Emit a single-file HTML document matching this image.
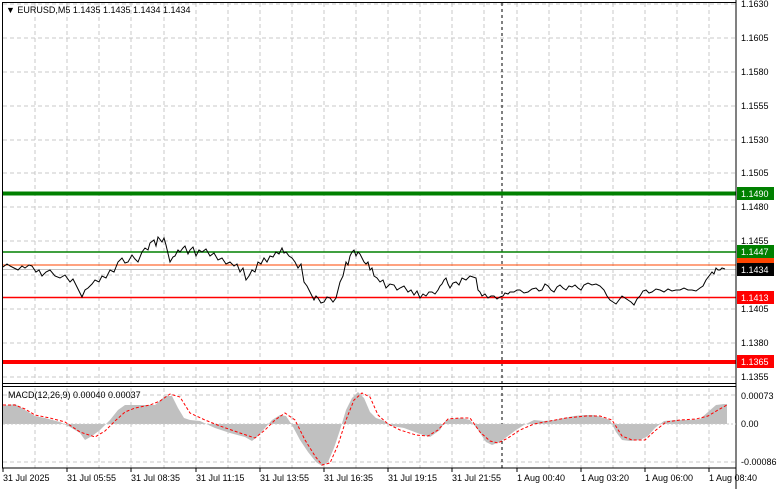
<!DOCTYPE html>
<html><head><style>
body{margin:0;background:#fff;width:781px;height:489px;overflow:hidden;font-family:"Liberation Sans",sans-serif}
svg text{font-family:"Liberation Sans",sans-serif;font-size:9px;fill:#000}
</style></head><body>
<svg width="781" height="489" viewBox="0 0 781 489">
<rect width="781" height="489" fill="#fff"/>
<g stroke="#c8c8c8" stroke-dasharray="4,3" stroke-width="1">
<line x1="3" y1="4" x2="736" y2="4"/><line x1="3" y1="38" x2="736" y2="38"/><line x1="3" y1="72" x2="736" y2="72"/><line x1="3" y1="106" x2="736" y2="106"/><line x1="3" y1="140" x2="736" y2="140"/><line x1="3" y1="173" x2="736" y2="173"/><line x1="3" y1="207" x2="736" y2="207"/><line x1="3" y1="241" x2="736" y2="241"/><line x1="3" y1="275" x2="736" y2="275"/><line x1="3" y1="309" x2="736" y2="309"/><line x1="3" y1="343" x2="736" y2="343"/><line x1="3" y1="377" x2="736" y2="377"/>
<line x1="3" y1="395" x2="736" y2="395"/><line x1="3" y1="462" x2="736" y2="462"/>
<line x1="35" y1="3" x2="35" y2="468"/><line x1="67" y1="3" x2="67" y2="468"/><line x1="99" y1="3" x2="99" y2="468"/><line x1="131" y1="3" x2="131" y2="468"/><line x1="164" y1="3" x2="164" y2="468"/><line x1="196" y1="3" x2="196" y2="468"/><line x1="228" y1="3" x2="228" y2="468"/><line x1="260" y1="3" x2="260" y2="468"/><line x1="292" y1="3" x2="292" y2="468"/><line x1="324" y1="3" x2="324" y2="468"/><line x1="356" y1="3" x2="356" y2="468"/><line x1="388" y1="3" x2="388" y2="468"/><line x1="420" y1="3" x2="420" y2="468"/><line x1="452" y1="3" x2="452" y2="468"/><line x1="484" y1="3" x2="484" y2="468"/><line x1="517" y1="3" x2="517" y2="468"/><line x1="549" y1="3" x2="549" y2="468"/><line x1="581" y1="3" x2="581" y2="468"/><line x1="613" y1="3" x2="613" y2="468"/><line x1="645" y1="3" x2="645" y2="468"/><line x1="677" y1="3" x2="677" y2="468"/><line x1="709" y1="3" x2="709" y2="468"/>
</g>
<line x1="502" y1="3" x2="502" y2="468" stroke="#000" stroke-dasharray="3,3"/>
<rect x="0" y="383" width="737" height="4" fill="#fff"/>
<!-- levels -->
<line x1="3" y1="193.5" x2="736" y2="193.5" stroke="#008000" stroke-width="4"/>
<line x1="3" y1="252" x2="736" y2="252" stroke="#008000" stroke-width="1.5"/>
<line x1="3" y1="265" x2="736" y2="265" stroke="#ff4500" stroke-width="1"/>
<line x1="3" y1="269.5" x2="736" y2="269.5" stroke="#c0c0c0" stroke-width="1"/>
<line x1="3" y1="297.5" x2="736" y2="297.5" stroke="#ff0000" stroke-width="1.5"/>
<line x1="3" y1="362" x2="736" y2="362" stroke="#ff0000" stroke-width="4"/>
<polyline fill="none" stroke="#000" stroke-width="1" points="3,267 7,264 10,266 14,268 18,270 22,266 25,268 29,265 32,266 36,272 39,270 42,276 46,272 50,270 55,276 60,278 65,275 70,282 73,279 76,285 82,297 85,290 88,288 92,284 95,280 99,282 102,276 106,278 110,270 114,272 118,262 122,258 125,263 128,262 132,255 135,259 138,262 142,252 145,248 148,250 150,243 154,240 156,246 158,237 162,242 164,238 166,245 170,262 173,257 175,256 178,250 180,252 183,248 185,246 188,254 190,250 193,247 196,256 199,250 202,252 206,249 210,256 214,253 218,260 222,258 226,264 230,262 234,266 237,264 240,272 243,268 246,280 249,276 252,270 255,272 258,262 261,264 264,258 267,262 270,256 273,257 276,252 279,254 282,248 284,253 286,252 289,256 292,258 295,262 298,268 301,264 304,282 307,286 310,292 312,296 314,300 316,296 318,298 321,303 324,302 327,297 330,298 333,302 336,298 340,282 343,276 346,262 348,265 350,256 352,252 354,250 356,256 358,252 360,254 362,258 364,262 366,264 368,262 370,270 372,268 374,276 377,278 380,282 383,280 386,288 390,284 394,285 397,290 400,288 404,286 408,292 411,290 414,295 417,291 420,298 423,294 426,296 429,292 432,292 435,294 438,290 440,286 442,284 444,280 446,278 448,284 450,288 453,283 456,282 459,285 462,278 466,280 470,276 473,277 476,278 478,290 480,292 482,296 485,294 488,298 491,296 494,296 497,299 500,297 503,296 505,293 508,294 510,292 514,292 517,290 520,290 524,293 528,292 532,289 536,288 539,291 542,290 545,284 548,286 551,290 554,292 557,287 560,285 563,288 566,290 569,286 572,287 575,285 578,288 581,290 584,285 588,283 592,285 596,284 600,286 604,290 607,296 610,300 613,302 616,304 619,300 622,296 625,298 628,300 631,302 634,305 637,299 640,296 643,291 646,290 649,293 652,292 656,289 660,290 664,292 668,289 672,291 676,290 680,290 684,288 688,290 692,290 696,291 700,288 703,286 706,280 709,276 712,272 714,274 716,268 718,270 720,270 722,268 725,269"/>
<!-- frame -->
<line x1="736" y1="0" x2="736" y2="489" stroke="#000"/>
<line x1="2" y1="383.5" x2="736" y2="383.5" stroke="#000"/>
<line x1="2" y1="386.5" x2="736" y2="386.5" stroke="#000"/>
<line x1="2" y1="468" x2="736" y2="468" stroke="#000"/>
<line x1="2" y1="2.5" x2="736" y2="2.5" stroke="#000"/>
<line x1="2.5" y1="2" x2="2.5" y2="468" stroke="#000"/>
<g>
<text x="741" y="7">1.1630</text><text x="741" y="41">1.1605</text><text x="741" y="75">1.1580</text><text x="741" y="109">1.1555</text><text x="741" y="143">1.1530</text><text x="741" y="176">1.1505</text><text x="741" y="210">1.1480</text><text x="741" y="244">1.1455</text><text x="741" y="312">1.1405</text><text x="741" y="346">1.1380</text><text x="741" y="380">1.1355</text>
</g>
<rect x="737" y="187" width="37" height="13" fill="#008000"/><text x="741" y="197" style="fill:#fff">1.1490</text>
<rect x="737" y="245" width="37" height="13" fill="#008000"/><text x="741" y="255" style="fill:#fff">1.1447</text>
<rect x="737" y="258" width="37" height="9" fill="#ff4500"/>
<rect x="737" y="263" width="37" height="13" fill="#000"/><text x="741" y="273" style="fill:#fff">1.1434</text>
<rect x="737" y="291" width="37" height="13" fill="#ff0000"/><text x="741" y="301" style="fill:#fff">1.1413</text>
<rect x="737" y="355" width="37" height="13" fill="#ff0000"/><text x="741" y="365" style="fill:#fff">1.1365</text>
<text x="6" y="13">▼ EURUSD,M5  1.1435 1.1435 1.1434 1.1434</text>
<!-- MACD -->
<path fill="#c0c0c0" d="M3,424 L3,406 15,404 25,410 35,416 45,418 60,422 70,427 80,433 85,440 92,436 100,430 110,420 118,410 125,405 140,405 155,405 165,396 172,396 178,408 184,418 190,420 200,421 215,428 230,433 245,437 252,441 258,436 265,428 272,420 280,415 286,416 292,425 300,440 308,452 316,462 322,466 328,462 334,448 340,430 346,410 352,398 358,392 364,398 370,412 376,418 382,420 392,426 404,428 420,434 430,437 440,430 446,420 452,419 462,418 470,420 478,430 486,442 492,445 500,442 508,436 516,430 524,425 534,420 544,421 554,420 564,418 574,416 584,415 594,415 604,418 610,420 616,432 622,440 630,441 640,440 648,436 655,428 664,421 676,420 690,420 700,419 708,412 716,405 724,404 727,404 L727,424 Z"/>
<line x1="3" y1="424" x2="736" y2="424" stroke="#c8c8c8" stroke-dasharray="2,2"/>
<polyline fill="none" stroke="#ff0000" stroke-dasharray="3,2" stroke-width="1" points="3,405 15,405 25,409 35,415 50,418 65,422 80,432 95,437 105,431 115,421 125,412 135,408 150,405 160,401 170,394 180,397 190,413 205,420 220,426 240,433 255,438 265,430 275,420 285,413 295,420 305,440 315,456 322,465 330,463 338,445 346,420 354,400 362,393 370,397 378,415 388,424 400,430 416,435 428,436 438,430 448,419 460,418 470,418 480,432 490,441 498,443 508,438 520,430 534,424 550,421 566,418 586,416 600,416 612,420 622,436 632,440 645,440 656,430 666,422 680,420 696,419 708,416 718,410 727,405"/>
<text x="8" y="398">MACD(12,26,9) 0.00040 0.00037</text>
<text x="741" y="399">0.00073</text><text x="741" y="427">0.00</text><text x="741" y="465">-0.00086</text>
<g>
<text x="3" y="481">31 Jul 2025</text><text x="67" y="481">31 Jul 05:55</text><text x="131" y="481">31 Jul 08:35</text><text x="196" y="481">31 Jul 11:15</text><text x="260" y="481">31 Jul 13:55</text><text x="324" y="481">31 Jul 16:35</text><text x="388" y="481">31 Jul 19:15</text><text x="452" y="481">31 Jul 21:55</text><text x="517" y="481">1 Aug 00:40</text><text x="581" y="481">1 Aug 03:20</text><text x="645" y="481">1 Aug 06:00</text><text x="709" y="481">1 Aug 08:40</text>
</g>
<g stroke="#000"><line x1="3" y1="468" x2="3" y2="472"/><line x1="67" y1="468" x2="67" y2="472"/><line x1="131" y1="468" x2="131" y2="472"/><line x1="196" y1="468" x2="196" y2="472"/><line x1="260" y1="468" x2="260" y2="472"/><line x1="324" y1="468" x2="324" y2="472"/><line x1="388" y1="468" x2="388" y2="472"/><line x1="452" y1="468" x2="452" y2="472"/><line x1="517" y1="468" x2="517" y2="472"/><line x1="581" y1="468" x2="581" y2="472"/><line x1="645" y1="468" x2="645" y2="472"/><line x1="709" y1="468" x2="709" y2="472"/></g>
</svg>
</body></html>
